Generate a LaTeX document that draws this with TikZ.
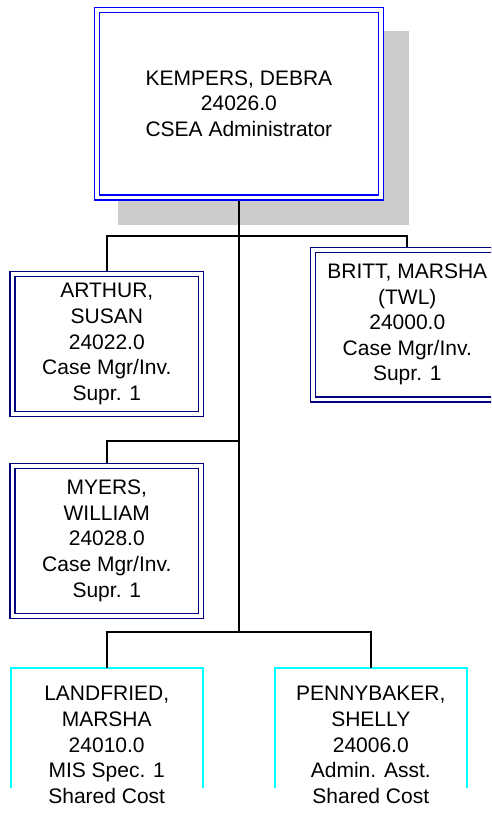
\documentclass[tikz,border=0pt]{standalone}
\usepackage{fontspec}
\setmainfont{Liberation Sans}
\usetikzlibrary{backgrounds}
\definecolor{navyb}{RGB}{0,0,128}
\definecolor{blueb}{RGB}{0,0,255}
\definecolor{cyanb}{RGB}{0,255,255}
\definecolor{shadowg}{RGB}{204,204,204}
\begin{document}
\begin{tikzpicture}[x=1pt,y=-1pt,
  txt/.style={font=\fontsize{21}{25.6}\selectfont, align=center, text=black},
  dbox/.style={txt, draw=navyb, double=white, line width=1.6pt, double distance=3.4pt, fill=white, inner sep=0pt, outer sep=3.3pt, minimum width=188.7pt},
  topbox/.style={dbox, draw=blueb, minimum width=284.2pt, minimum height=187.8pt},
  cbox/.style={txt, inner sep=0pt, outer sep=0pt, minimum width=192pt, minimum height=154pt},
  cline/.style={draw=cyanb, line width=2pt},
  conn/.style={draw=black, line width=2pt},
]
\useasboundingbox (0,0) rectangle (491,822);
\clip (0,0) rectangle (491,822);

\node[topbox] (kempers) at (238.9,103.7) {KEMPERS, DEBRA\\24026.0\\CSEA Administrator};
\node[dbox, minimum height=139.7pt] (arthur) at (106.8,344) {ARTHUR,\\SUSAN\\24022.0\\Case Mgr/Inv.\\Supr. 1};
\node[dbox, minimum height=149.4pt] (britt) at (407.3,324.5) {BRITT, MARSHA\\(TWL)\\24000.0\\Case Mgr/Inv.\\Supr. 1};
\node[dbox, minimum height=150pt] (myers) at (106.8,540.8) {MYERS,\\WILLIAM\\24028.0\\Case Mgr/Inv.\\Supr. 1};
\node[cbox] (landfried) at (106.7,745) {LANDFRIED,\\MARSHA\\24010.0\\MIS Spec. 1\\Shared Cost};
\node[cbox] (penny) at (370.8,745) {PENNYBAKER,\\SHELLY\\24006.0\\Admin. Asst.\\Shared Cost};

\draw[cline] (landfried.north west) ++(0,120) -- (landfried.north west) -- (landfried.north east) -- ++(0,120);
\draw[cline] (penny.north west) ++(0,120) -- (penny.north west) -- (penny.north east) -- ++(0,120);

\begin{scope}[on background layer]
\fill[shadowg] ([shift={(24.5,24)}]kempers.north west) rectangle ([shift={(24.5,24)}]kempers.south east);
\end{scope}

\coordinate (j1) at (239,236);
\coordinate (j2) at (239,441);
\coordinate (j3) at (239,632);
\draw[conn] (kempers.south -| j1) -- (j3);
\draw[conn] (arthur.north) |- (j1) -| (britt.north);
\draw[conn] (j2) -| (myers.north);
\draw[conn] (landfried.north) |- (j3) -| (penny.north);
\end{tikzpicture}
\end{document}
